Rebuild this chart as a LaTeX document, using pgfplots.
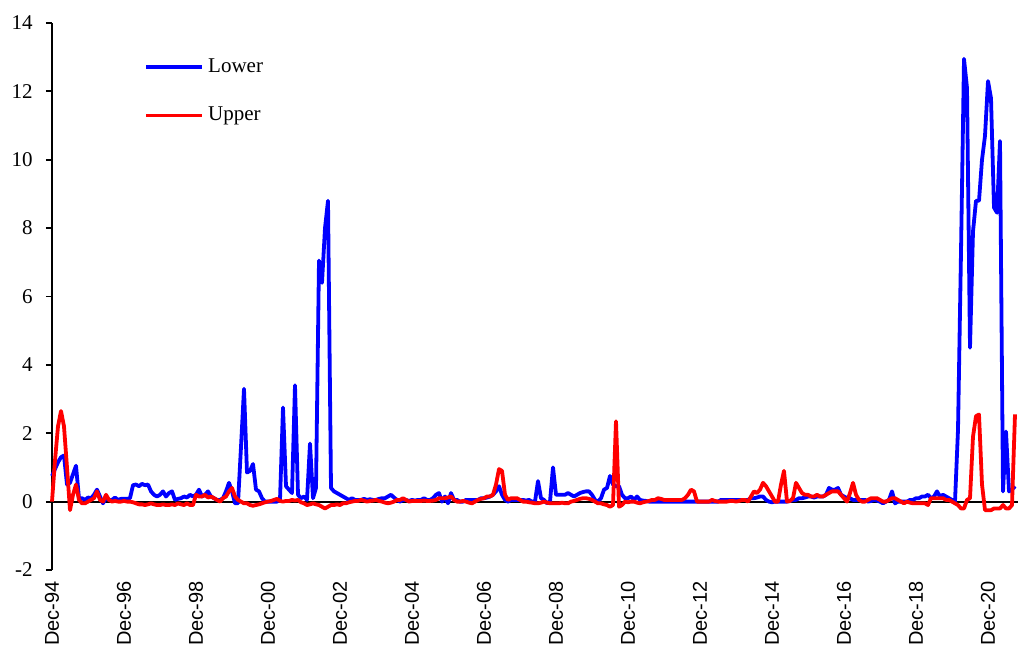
\documentclass[border=0pt]{standalone}
\usepackage{fontspec}
\setmainfont{Liberation Serif}
\newfontfamily\arialfont{Liberation Sans}
\usepackage{pgfplots}
\pgfplotsset{compat=1.18}
\usepackage{pgfplotstable}
\definecolor{xlblue}{RGB}{0,0,255}
\definecolor{xlred}{RGB}{255,0,0}
\pgfplotstableread{
m lower upper
0 0.75 0.0
1 0.95 1.2
2 1.15 2.2
3 1.3 2.65
4 1.35 2.2
5 0.5 1.0
6 0.55 -0.25
7 0.8 0.2
8 1.05 0.5
9 0.1 0.05
10 0.1 -0.05
11 0.05 -0.05
12 0.12 0.0
13 0.1 0.05
14 0.2 0.1
15 0.35 0.3
16 0.15 0.05
17 -0.05 0.0
18 0.1 0.2
19 0.05 0.05
20 0.05 0.0
21 0.12 0.02
22 0.05 0.0
23 0.08 0.0
24 0.08 0.02
25 0.08 0.0
26 0.1 0.0
27 0.48 -0.02
28 0.5 -0.05
29 0.45 -0.08
30 0.52 -0.08
31 0.48 -0.1
32 0.5 -0.08
33 0.3 -0.05
34 0.2 -0.08
35 0.15 -0.1
36 0.2 -0.1
37 0.3 -0.08
38 0.15 -0.1
39 0.25 -0.1
40 0.3 -0.08
41 0.05 -0.1
42 0.08 -0.05
43 0.1 -0.08
44 0.15 -0.1
45 0.12 -0.05
46 0.2 -0.1
47 0.15 -0.1
48 0.2 0.2
49 0.35 0.15
50 0.15 0.15
51 0.2 0.2
52 0.3 0.12
53 0.15 0.15
54 0.1 0.1
55 0.05 0.05
56 0.05 0.0
57 0.1 0.1
58 0.3 0.15
59 0.55 0.3
60 0.3 0.4
61 -0.05 0.15
62 -0.05 0.05
63 1.6 0.0
64 3.3 -0.05
65 0.85 -0.05
66 0.9 -0.1
67 1.1 -0.12
68 0.35 -0.1
69 0.3 -0.08
70 0.1 -0.05
71 0.0 -0.02
72 0.0 0.0
73 0.0 0.02
74 0.0 0.05
75 0.0 0.08
76 0.05 0.02
77 2.75 0.0
78 0.45 0.02
79 0.35 0.02
80 0.25 0.05
81 3.4 0.03
82 0.2 0.05
83 0.1 -0.02
84 0.15 -0.05
85 0.05 -0.1
86 1.7 -0.08
87 0.1 -0.05
88 0.4 -0.08
89 7.05 -0.1
90 6.4 -0.15
91 8.0 -0.2
92 8.8 -0.15
93 0.4 -0.1
94 0.3 -0.1
95 0.25 -0.08
96 0.2 -0.1
97 0.15 -0.05
98 0.1 -0.05
99 0.05 -0.02
100 0.1 0.0
101 0.05 0.02
102 0.05 0.02
103 0.05 0.05
104 0.08 0.03
105 0.05 0.0
106 0.07 0.02
107 0.05 0.03
108 0.05 0.05
109 0.08 0.02
110 0.1 0.0
111 0.1 -0.03
112 0.15 -0.05
113 0.2 -0.03
114 0.12 0.0
115 0.05 0.05
116 0.0 0.05
117 0.05 0.1
118 0.05 0.05
119 0.02 0.0
120 0.05 0.02
121 0.03 0.02
122 0.05 0.02
123 0.05 0.02
124 0.1 0.03
125 0.05 0.02
126 0.05 0.02
127 0.1 0.03
128 0.2 0.05
129 0.25 0.1
130 0.0 0.1
131 0.15 0.1
132 -0.05 0.12
133 0.25 0.15
134 0.05 0.05
135 0.05 0.0
136 0.0 0.0
137 0.0 0.02
138 0.05 0.0
139 0.05 -0.03
140 0.05 -0.05
141 0.05 0.0
142 0.05 0.05
143 0.1 0.08
144 0.1 0.1
145 0.12 0.15
146 0.15 0.15
147 0.2 0.2
148 0.3 0.5
149 0.45 0.95
150 0.2 0.9
151 0.05 0.2
152 0.0 0.05
153 0.05 0.1
154 0.05 0.1
155 0.05 0.1
156 0.05 0.05
157 0.05 0.0
158 0.03 0.0
159 0.05 -0.02
160 0.0 -0.03
161 0.0 -0.05
162 0.6 -0.05
163 0.1 -0.03
164 0.05 0.0
165 -0.05 -0.03
166 0.0 -0.05
167 1.0 -0.05
168 0.2 -0.05
169 0.2 -0.05
170 0.2 -0.03
171 0.2 -0.05
172 0.25 -0.05
173 0.2 0.0
174 0.15 0.02
175 0.2 0.05
176 0.25 0.08
177 0.28 0.1
178 0.3 0.1
179 0.3 0.08
180 0.2 0.05
181 0.05 0.0
182 0.0 -0.05
183 0.1 -0.05
184 0.35 -0.08
185 0.4 -0.1
186 0.75 -0.15
187 0.5 -0.1
188 0.45 2.35
189 0.45 -0.15
190 0.2 -0.1
191 0.1 0.0
192 0.1 -0.02
193 0.15 0.0
194 0.05 0.0
195 0.15 -0.03
196 0.05 -0.05
197 0.03 -0.02
198 0.02 0.0
199 0.0 0.02
200 0.0 0.05
201 0.0 0.05
202 0.0 0.1
203 0.0 0.08
204 0.0 0.05
205 0.0 0.05
206 0.0 0.05
207 0.0 0.05
208 0.0 0.05
209 0.0 0.05
210 0.0 0.05
211 0.0 0.1
212 0.0 0.2
213 0.0 0.35
214 0.0 0.3
215 0.0 0.0
216 0.0 0.0
217 0.0 0.0
218 0.0 0.0
219 0.0 0.0
220 0.0 0.05
221 0.0 0.02
222 0.0 0.0
223 0.05 0.0
224 0.05 0.0
225 0.05 0.0
226 0.05 0.02
227 0.05 0.02
228 0.05 0.0
229 0.05 0.02
230 0.05 0.05
231 0.05 0.05
232 0.05 0.0
233 0.1 0.15
234 0.1 0.3
235 0.12 0.25
236 0.15 0.35
237 0.15 0.55
238 0.05 0.45
239 0.0 0.3
240 -0.02 0.15
241 0.0 0.0
242 0.0 0.0
243 0.0 0.5
244 0.0 0.9
245 0.0 0.0
246 0.02 0.02
247 0.05 0.1
248 0.05 0.55
249 0.1 0.4
250 0.1 0.25
251 0.12 0.2
252 0.15 0.2
253 0.15 0.15
254 0.12 0.15
255 0.15 0.2
256 0.15 0.15
257 0.15 0.15
258 0.2 0.2
259 0.4 0.25
260 0.35 0.3
261 0.35 0.3
262 0.4 0.3
263 0.2 0.2
264 0.15 0.1
265 0.1 0.0
266 0.1 0.25
267 0.05 0.55
268 0.05 0.2
269 0.05 0.05
270 0.05 0.0
271 0.05 0.0
272 0.0 0.05
273 0.02 0.1
274 0.05 0.1
275 0.03 0.1
276 0.0 0.05
277 -0.05 0.0
278 0.0 0.0
279 0.05 0.05
280 0.3 0.1
281 -0.05 0.1
282 0.0 0.05
283 0.0 0.0
284 0.0 -0.05
285 0.0 0.0
286 0.05 -0.03
287 0.05 -0.05
288 0.1 -0.05
289 0.1 -0.05
290 0.15 -0.05
291 0.15 -0.05
292 0.2 -0.1
293 0.1 0.1
294 0.15 0.1
295 0.3 0.1
296 0.15 0.1
297 0.2 0.1
298 0.15 0.05
299 0.1 0.05
300 0.05 0.0
301 0.0 -0.05
302 2.1 -0.1
303 7.3 -0.2
304 12.95 -0.2
305 12.1 0.05
306 4.5 0.1
307 7.9 1.9
308 8.8 2.5
309 8.8 2.55
310 10.0 0.5
311 10.7 -0.25
312 12.3 -0.25
313 11.8 -0.25
314 8.6 -0.2
315 8.45 -0.2
316 10.55 -0.2
317 0.3 -0.1
318 2.05 -0.2
319 0.3 -0.2
320 0.35 -0.1
321 0.45 2.55
}\datatable
\begin{document}
\begin{tikzpicture}
\path[use as bounding box] (-26pt,-41pt) rectangle (483pt,285pt);
\begin{axis}[
  at={(0pt,0pt)}, anchor=south west,
  scale only axis, width=483pt, height=273.5pt,
  xmin=0, xmax=322, ymin=-2, ymax=14,
  clip=false,
  axis y line=left, axis x line=bottom,
  x axis line style={draw=none},
  y axis line style={-, line width=0.9pt, black},
  ytick={-2,0,2,4,6,8,10,12,14},
  tick align=outside,
  ytick style={line width=0.9pt, black},
  major tick length=3pt,
  xtick={0,24,48,72,96,120,144,168,192,216,240,264,288,312},
  xticklabels={Dec-94,Dec-96,Dec-98,Dec-00,Dec-02,Dec-04,Dec-06,Dec-08,Dec-10,Dec-12,Dec-14,Dec-16,Dec-18,Dec-20},
  xtick style={draw=none},
  /pgf/number format/assume math mode=true,
  yticklabel style={font=\fontsize{10.5}{12}\selectfont, inner sep=0pt, anchor=east, xshift=-6.5pt},
  xticklabel style={font=\arialfont\fontsize{10}{12}\selectfont, rotate=90, anchor=east, inner sep=0pt},
  xticklabel shift=2.5pt,
  legend style={draw=none, fill=none, at={(axis description cs:0,1)}, anchor=north west,
     xshift=46pt, yshift=-15.5pt, font=\fontsize{10.5}{12}\selectfont, row sep=12pt, inner sep=0pt},
  legend cell align=left,
  legend image code/.code={\draw[#1] (0pt,0pt) -- (28pt,0pt);},
]
\draw[black, line width=1pt] (axis cs:0,0) -- (axis cs:322,0);
\addplot[xlblue, line width=1.9pt, line join=round] table[x=m, y=lower] {\datatable};
\addlegendentry{Lower}
\addplot[xlred, line width=1.9pt, line join=round] table[x=m, y=upper] {\datatable};
\addlegendentry{Upper}
\end{axis}
\end{tikzpicture}
\end{document}
